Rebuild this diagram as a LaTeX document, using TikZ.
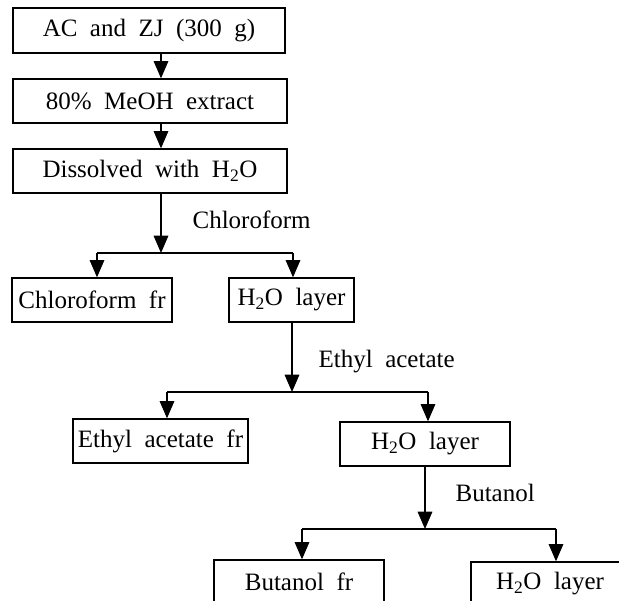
\documentclass[tikz,border=0pt]{standalone}
\usepackage{fontspec}
\setmainfont{Liberation Serif}
\usetikzlibrary{arrows.meta}
\newcommand{\flowfont}{\fontsize{18.75}{22}\selectfont\spaceskip=0.5em\relax}

\begin{document}
\begin{tikzpicture}[x=0.75pt, y=-0.75pt, ->, >={Triangle[length=13pt, width=11pt]}, line width=0.9pt,
    box/.style={rectangle, draw, line width=1pt, minimum height=33pt, inner sep=0pt, font=\flowfont},
    lbl/.style={anchor=west, inner sep=0pt, font=\flowfont}]

    \useasboundingbox (0,0) rectangle (619,601);
    \clip (0,0) rectangle (619,601);

    \node[box, minimum width=204pt, minimum height=33.75pt] (AC) at (149,30.5) {AC and ZJ (300 g)};
    \node[box, minimum width=205.5pt] (MeOH) at (150,101) {80\% MeOH extract};
    \node[box, minimum width=205.5pt] (Diss) at (150,171) {Dissolved with H\textsubscript{2}O};
    \node[box, minimum width=120pt] (ChlFr) at (92,300) {Chloroform fr};
    \node[box, minimum width=93.75pt] (Wat1) at (291.5,300) {H\textsubscript{2}O layer};
    \node[box, minimum width=131.25pt] (EthFr) at (160.5,441) {Ethyl acetate fr};
    \node[box, minimum width=127.5pt] (Wat2) at (425,444) {H\textsubscript{2}O layer};
    \node[box, minimum width=127.5pt] (ButFr) at (299,582) {Butanol fr};
    \node[box, minimum width=118.5pt] (Wat3) at (550,584) {H\textsubscript{2}O layer};

    \node[lbl] (Chl) at (192,220) {Chloroform};
    \node[lbl] (Eth) at (318,362) {Ethyl acetate};
    \node[lbl] (But) at (455,493) {Butanol};

    \coordinate (T) at (161,0);
    \coordinate (S1) at (161,253);
    \coordinate (S1l) at (97,253);
    \coordinate (S1r) at (293,253);
    \coordinate (S2) at (292,392);
    \coordinate (S2l) at (167,392);
    \coordinate (S2r) at (428,392);
    \coordinate (S3) at (425,529);
    \coordinate (S3l) at (302,529);
    \coordinate (S3r) at (556,529);

\path
        (AC.south -| T) edge (MeOH.north -| T)
        (MeOH.south -| T) edge (Diss.north -| T)
        (Diss.south -| S1) edge (S1)
        (S1l) edge[-] (S1r)
        (S1l) edge (ChlFr.north -| S1l)
        (S1r) edge (Wat1.north -| S1r)
        (Wat1.south -| S2) edge (S2)
        (S2l) edge[-] (S2r)
        (S2l) edge (EthFr.north -| S2l)
        (S2r) edge (Wat2.north -| S2r)
        (Wat2.south -| S3) edge (S3)
        (S3l) edge[-] (S3r)
        (S3l) edge (ButFr.north -| S3l)
        (S3r) edge (Wat3.north -| S3r)
;
\end{tikzpicture}
\end{document}
